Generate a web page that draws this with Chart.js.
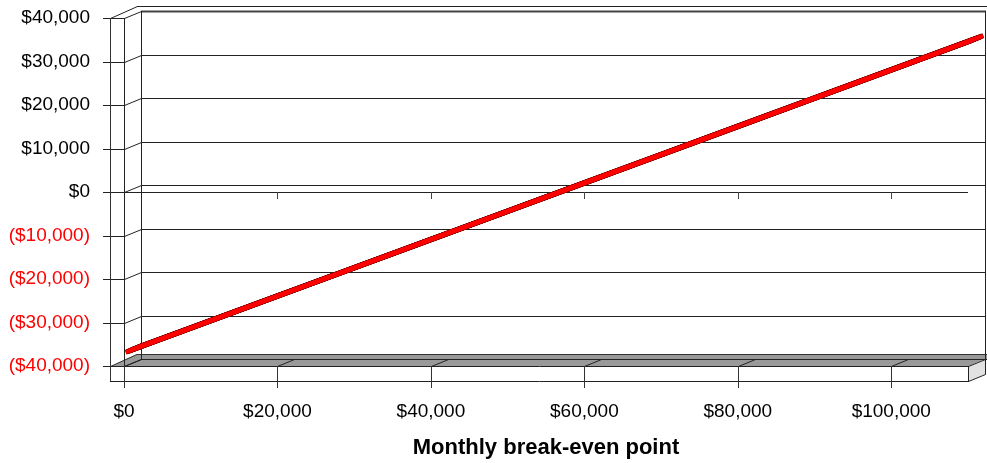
<!DOCTYPE html>
<html>
<head>
<meta charset="utf-8">
<title>Monthly break-even point</title>
<style>
  html, body { margin: 0; padding: 0; background: #ffffff; overflow: hidden; }
  canvas { display: block; }
</style>
</head>
<body>
<canvas id="chart" width="987" height="463"></canvas>
<script src="https://cdn.jsdelivr.net/npm/chart.js@4.4.1/dist/chart.umd.min.js"></script>
<script>
// Monthly revenue (category axis) and resulting profit / loss
const revenue = [0, 10000, 20000, 30000, 40000, 50000, 60000, 70000, 80000, 90000, 100000, 110000];
const profit  = [-37000, -30500, -24000, -17500, -11000, -4500, 2000, 8500, 15000, 21500, 28000, 34500];

// Axis ranges and labelled tick values
const yRange = { min: -40000, max: 40000 };
const yTickValues = [-40000, -30000, -20000, -10000, 0, 10000, 20000, 30000, 40000];
const xRange = { min: 0, max: 110000 };
const xTickValues = [0, 20000, 40000, 60000, 80000, 100000];
const xTitle = 'Monthly break-even point';

// 3-D box geometry (screen offsets in px)
const INNER = { x: 17, y: -7 };   // front plane -> face of back wall
const OUTER = { x: 27, y: -12 };  // front plane -> rear of back wall
const WALL = 14;                  // side wall thickness
const FLOOR = 15;                 // floor slab thickness
const TICK_OUT = 7;               // tick mark length
const FONT = '"Liberation Sans", Arial, Helvetica, sans-serif';

function money(v) {
  const s = '$' + String(Math.abs(v)).replace(/\B(?=(\d{3})+(?!\d))/g, ',');
  return v < 0 ? '(' + s + ')' : s;
}

// Walls, floor and grid of the 3-D box, drawn through the chart scales
const box3d = {
  id: 'box3d',
  beforeDatasetsDraw(chart) {
    const { ctx, chartArea: a, scales } = chart;
    const xs = scales.x, ys = scales.y;
    const L = Math.round(a.left), R = Math.round(a.right);
    const T = Math.round(a.top), B = Math.round(a.bottom);
    const W = chart.width;
    const h = v => Math.round(v) + 0.5;
    const seg = (x1, y1, x2, y2, color, w) => {
      ctx.beginPath();
      ctx.moveTo(x1, y1);
      ctx.lineTo(x2, y2);
      ctx.strokeStyle = color || '#000';
      ctx.lineWidth = w || 1;
      ctx.stroke();
    };
    ctx.save();

    // floor slab: top face
    ctx.fillStyle = '#999999';
    ctx.beginPath();
    ctx.moveTo(L - WALL, B + 0.5);
    ctx.lineTo(R, B + 0.5);
    ctx.lineTo(R + INNER.x, B + INNER.y);
    ctx.lineTo(W, B + INNER.y);
    ctx.lineTo(W, B + OUTER.y);
    ctx.lineTo(L - WALL + OUTER.x, B + OUTER.y);
    ctx.closePath();
    ctx.fill();
    seg(L - WALL + OUTER.x, h(B + OUTER.y), W, h(B + OUTER.y), '#333');
    seg(L + INNER.x, h(B + INNER.y), W, h(B + INNER.y), '#222');
    seg(L - WALL + 0.5, B + 0.5, L - WALL + OUTER.x, B + OUTER.y + 0.5, '#333');

    // floor slab: front and right faces
    ctx.fillStyle = '#ffffff';
    ctx.fillRect(L - WALL, B, R - L + WALL, FLOOR);
    ctx.fillStyle = '#e2e2e2';
    ctx.beginPath();
    ctx.moveTo(R + 0.5, B + 0.5);
    ctx.lineTo(R + INNER.x + 0.5, B + INNER.y + 0.5);
    ctx.lineTo(R + INNER.x + 0.5, B + INNER.y + FLOOR + 0.5);
    ctx.lineTo(R + 0.5, B + FLOOR + 0.5);
    ctx.closePath();
    ctx.fill();
    ctx.strokeStyle = '#222';
    ctx.lineWidth = 1;
    ctx.stroke();
    seg(L - WALL, h(B), R + 1, h(B), '#222');
    seg(L - WALL, h(B + FLOOR), R + 1, h(B + FLOOR), '#222');
    seg(h(L - WALL), B, h(L - WALL), B + FLOOR, '#777');

    // back wall grid lines and side wall edges for every value tick
    ys.ticks.forEach(t => {
      const fy = Math.round(ys.getPixelForValue(t.value));
      const by = fy + INNER.y;
      if (t.value === yRange.max) {
        seg(L + INNER.x, by + 0.5, R + INNER.x + 1, by + 0.5, '#444', 2);
      } else if (t.value !== yRange.min) {
        seg(L + INNER.x, h(by), R + INNER.x, h(by), '#222');
      }
      seg(L - WALL - TICK_OUT, h(fy), L, h(fy), '#222');
      seg(L + 0.5, fy + 0.5, L + INNER.x + 0.5, by + 0.5, '#222');
    });

    // top of side wall and rear edge of back wall
    seg(L - WALL + 0.5, T + 0.5, L - WALL + OUTER.x + 0.5, T + OUTER.y + 0.5, '#222');
    seg(L - WALL + OUTER.x, h(T + OUTER.y), W, h(T + OUTER.y), '#222');

    // vertical edges
    seg(h(L - WALL), T, h(L - WALL), B + FLOOR, '#333');
    seg(h(L), T, h(L), B + FLOOR + TICK_OUT, '#222');
    seg(h(L + INNER.x), T + INNER.y, h(L + INNER.x), B + INNER.y, '#222');
    seg(h(R + INNER.x), T + INNER.y, h(R + INNER.x), B + INNER.y, '#222');

    // category ticks: floor lines and marks below the slab
    xs.ticks.forEach(t => {
      const fx = Math.round(xs.getPixelForValue(t.value));
      seg(fx + 0.5, B + 0.5, fx + INNER.x + 0.5, B + INNER.y + 0.5, '#222');
      seg(h(fx), B, h(fx), B + FLOOR + TICK_OUT, '#333');
    });

    // value axis crossing line at zero on the front plane
    const zy = Math.round(ys.getPixelForValue(0));
    seg(L, h(zy), R, h(zy), '#222');
    xs.ticks.forEach(t => {
      if (t.value === xRange.min) return;
      const fx = Math.round(xs.getPixelForValue(t.value));
      seg(h(fx), zy, h(fx), zy + TICK_OUT, '#444');
    });

    ctx.restore();
  },

  // the series is a ribbon: sweep its line through the box depth
  beforeDatasetDraw(chart, args) {
    const el = args.meta.dataset;
    if (!el) return;
    const ctx = chart.ctx;
    const steps = 12;
    for (let i = 0; i <= steps; i++) {
      const t = 0.1 + 0.8 * i / steps;
      ctx.save();
      ctx.translate(INNER.x * t, INNER.y * t);
      el.draw(ctx, chart.chartArea);
      ctx.restore();
    }
    return false;
  }
};

const points = revenue.map((r, i) => ({ x: r, y: profit[i] }));

// tick label padding should not push the plot area inwards
function noEdgePadding(s) {
  s.paddingTop = 0;
  s.paddingBottom = 0;
  s.paddingLeft = 0;
  s.paddingRight = 0;
}

new Chart(document.getElementById('chart'), {
  type: 'line',
  data: {
    datasets: [
      { label: 'Profit', data: points, borderColor: '#ff0000', borderWidth: 3.5, pointRadius: 0, clip: false, tension: 0 },
      { label: 'Profit edge', data: points, borderColor: '#8c0000', borderWidth: 5, pointRadius: 0, clip: false, tension: 0 }
    ]
  },
  options: {
    responsive: false,
    devicePixelRatio: 1,
    animation: false,
    events: [],
    layout: { padding: { left: 0, top: 18, right: 19, bottom: 0 } },
    plugins: { legend: { display: false }, tooltip: { enabled: false }, title: { display: false } },
    scales: {
      x: {
        type: 'linear',
        min: xRange.min,
        max: xRange.max,
        grid: { display: false, drawTicks: false },
        border: { display: false },
        afterBuildTicks: s => { s.ticks = xTickValues.map(v => ({ value: v })); },
        ticks: {
          maxRotation: 0,
          minRotation: 0,
          autoSkip: false,
          padding: 34,
          color: '#000000',
          font: { family: FONT, size: 19 },
          callback: v => money(v)
        },
        title: {
          display: true,
          text: xTitle,
          color: '#000000',
          font: { family: FONT, size: 22, weight: 'bold' },
          padding: { top: 0, bottom: 2 }
        },
        afterFit: s => { s.height = 97; noEdgePadding(s); }
      },
      y: {
        type: 'linear',
        min: yRange.min,
        max: yRange.max,
        grid: { display: false, drawTicks: false },
        border: { display: false },
        afterBuildTicks: s => { s.ticks = yTickValues.map(v => ({ value: v })); },
        ticks: {
          autoSkip: false,
          padding: 34,
          font: { family: FONT, size: 19 },
          color: c => (c.tick && c.tick.value < 0 ? '#ff0000' : '#000000'),
          callback: v => money(v)
        },
        afterFit: s => { s.width = 124; noEdgePadding(s); }
      }
    }
  },
  plugins: [box3d]
});
</script>
</body>
</html>
